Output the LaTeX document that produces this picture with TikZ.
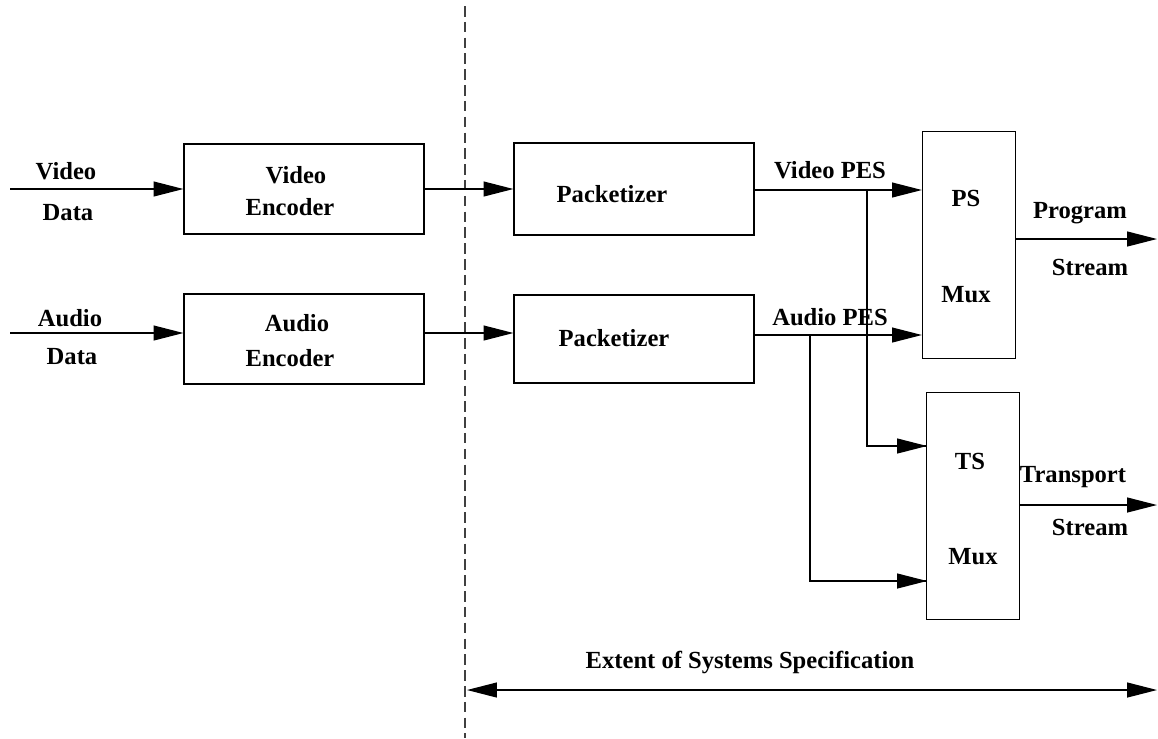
\documentclass[tikz,border=0pt]{standalone}
\usepackage{fontspec}
\setmainfont{Liberation Serif}
\usetikzlibrary{arrows.meta}
\tikzset{
  txt/.style={font=\bfseries\fontsize{14}{17}\selectfont, inner sep=1pt},
  blk/.style={draw, line width=0.7pt, minimum width=4.8cm, minimum height=1.8cm},
  mux/.style={draw, line width=0.7pt, minimum width=1.86cm, minimum height=4.54cm},
  flow/.style={draw, line width=0.7pt, ->},
  wire/.style={draw, line width=0.7pt},
  bound/.style={draw=black!75, line width=0.7pt, dash pattern=on 6pt off 3pt},
}
\begin{document}
\begin{tikzpicture}[x=0.02cm, y=-0.02cm, >={Triangle[length=17pt,width=8.5pt]}]
  \useasboundingbox (0,0) rectangle (1158,738);
  % boundary of the specification
  \draw[bound] (465,6) -- (465,738);
  % blocks
  \node[blk] (venc) at (304,189) {};
  \node[blk] (aenc) at (304,339) {};
  \node[blk, minimum height=1.84cm] (vpkt) at (634,189) {};
  \node[blk, minimum height=1.76cm] (apkt) at (634,339) {};
  \node[mux] (psmux) at (969,245) {};
  \node[mux] (tsmux) at (973,506) {};
  \foreach \N/\T/\X/\Y in {venc/Video/296/175, venc/Encoder/290/207, aenc/Audio/297/323, aenc/Encoder/290/358,
      vpkt/Packetizer/612/194, apkt/Packetizer/614/338,
      psmux/PS/966/198, psmux/Mux/966/295, tsmux/TS/970/461, tsmux/Mux/973/557}
    \node[txt] (\N-\T) at (\X,\Y) {\T};
  % inputs
  \coordinate (vdat) at (10,189);
  \coordinate (adat) at (10,333);
  \draw[flow] (vdat) -- (venc.west);
  \draw[flow] (adat) -- (adat -| aenc.west);
  \node[txt] at (66,171) {Video};
  \node[txt] at (68,213) {Data};
  \node[txt] at (70,318) {Audio};
  \node[txt] at (72,357) {Data};
  % encoder to packetizer
  \draw[flow] (venc.east) -- (vpkt.west);
  \draw[flow] (adat -| aenc.east) -- (adat -| apkt.west);
  % PES streams
  \coordinate (vpes) at (755,190);
  \coordinate (apes) at (755,335);
  \draw[flow] (vpes) -- (vpes -| psmux.west);
  \draw[flow] (apes) -- (apes -| psmux.west);
  \node[txt] at (830,170) {Video PES};
  \node[txt] at (830,317) {Audio PES};
  \coordinate (vbr) at (867,190);
  \coordinate (abr) at (810,335);
  \coordinate (tsv) at (927,446);
  \coordinate (tsa) at (927,581);
  \draw[wire] (vbr) |- (tsv);
  \draw[flow] (vbr |- tsv) -- (tsv);
  \draw[wire] (abr) |- (tsa);
  \draw[flow] (abr |- tsa) -- (tsa);
  % outputs
  \coordinate (psout) at (1157,239);
  \coordinate (tsout) at (1157,505);
  \draw[flow] (psmux.east |- psout) -- (psout);
  \draw[flow] (tsmux.east |- tsout) -- (tsout);
  \node[txt] at (1080,213) {Program};
  \node[txt] at (1090,267) {Stream};
  \node[txt] at (1073,477) {Transport};
  \node[txt] at (1090,527) {Stream};
  % extent
  \coordinate (extl) at (467,690);
  \coordinate (extr) at (1157,690);
  \draw[line width=0.7pt, <->] (extl) -- (extr);
  \node[txt] at (750,662) {Extent of Systems Specification};
\end{tikzpicture}
\end{document}
